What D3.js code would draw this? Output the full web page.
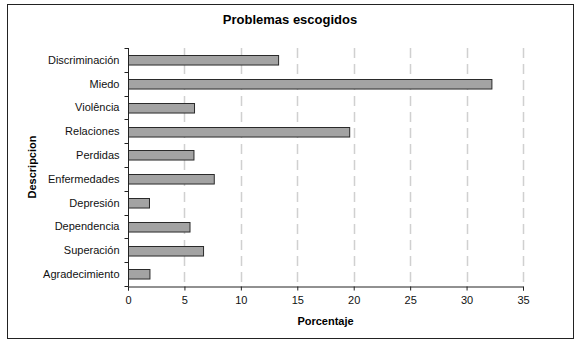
<!DOCTYPE html>
<head>
    <meta charset="utf-8">
    <title>Problemas escogidos</title>
    <style>
        body { margin: 0; background: #fff; }
        svg { display: block; font-family: "Liberation Sans", Arial, sans-serif; }
    </style>
</head>
<body>

<svg width="580" height="350"></svg>

<script src="https://cdnjs.cloudflare.com/ajax/libs/d3/7.8.5/d3.min.js"></script>

<script>

// categories top to bottom, and the percentage for each
var categories = ['Discriminación', 'Miedo', 'Violência', 'Relaciones', 'Perdidas',
                  'Enfermedades', 'Depresión', 'Dependencia', 'Superación', 'Agradecimiento'];
var values = [13.3, 32.2, 5.85, 19.6, 5.8, 7.6, 1.86, 5.45, 6.65, 1.9];
var xTicks = [0, 5, 10, 15, 20, 25, 30, 35];

var svg = d3.select('svg');

var margin = {left: 128, right: 57, top: 48, bottom: 64};
var width = 580 - margin.left - margin.right,
    height = 350 - margin.top - margin.bottom;

// outer frame
svg.append('rect')
    .attr('x', 7.5).attr('y', 4.5)
    .attr('width', 566).attr('height', 334)
    .attr('fill', 'none')
    .attr('stroke', '#222')
    .attr('stroke-width', 1);

svg.append('text')
    .attr('x', 290).attr('y', 24)
    .attr('text-anchor', 'middle')
    .attr('font-size', 13)
    .attr('font-weight', 'bold')
    .text('Problemas escogidos');

var g = svg.append('g')
    .attr('transform', `translate(${margin.left},${margin.top})`);

var x = d3.scaleLinear()
    .domain([0, 35])
    .range([0, width]);

var y = d3.scaleBand()
    .domain(categories)
    .range([0, height])
    .paddingInner(0.6)
    .paddingOuter(0.3);

// dashed vertical gridlines
g.selectAll('.grid')
    .data(xTicks.slice(1))
    .enter().append('line')
        .attr('x1', d => Math.round(x(d)) + 0.5)
        .attr('x2', d => Math.round(x(d)) + 0.5)
        .attr('y1', 0)
        .attr('y2', height)
        .attr('stroke', '#d0d0d0')
        .attr('stroke-width', 1.5)
        .attr('stroke-dasharray', '10,6');

// bars
g.selectAll('.bar')
    .data(values)
    .enter().append('rect')
        .attr('x', 0.5)
        .attr('y', (d, i) => Math.round(y(categories[i])) + 0.5)
        .attr('width', d => x(d))
        .attr('height', y.bandwidth())
        .attr('fill', '#a3a3a3')
        .attr('stroke', '#2a2a2a')
        .attr('stroke-width', 1);

// x axis
var xAxis = g.append('g')
    .attr('transform', `translate(0,${height + 0.5})`)
    .call(d3.axisBottom(x).tickValues(xTicks).tickSize(4).tickPadding(6));

xAxis.select('.domain').attr('stroke', '#222');
xAxis.selectAll('.tick line').attr('stroke', '#222');
xAxis.selectAll('text')
    .attr('font-family', '"Liberation Sans", Arial, sans-serif')
    .attr('font-size', 11)
    .attr('fill', '#111');

// y axis: Excel style ticks between categories
var yAxis = g.append('g').attr('transform', 'translate(0.5,0)');

yAxis.append('line')
    .attr('x1', 0).attr('x2', 0)
    .attr('y1', 0).attr('y2', height + 0.5)
    .attr('stroke', '#222');

yAxis.selectAll('.ytick')
    .data(d3.range(categories.length + 1))
    .enter().append('line')
        .attr('x1', -4).attr('x2', 0)
        .attr('y1', i => Math.round(i * height / categories.length) + 0.5)
        .attr('y2', i => Math.round(i * height / categories.length) + 0.5)
        .attr('stroke', '#222');

yAxis.selectAll('.ylabel')
    .data(categories)
    .enter().append('text')
        .attr('x', -9)
        .attr('y', d => y(d) + y.bandwidth() / 2)
        .attr('dy', '0.35em')
        .attr('text-anchor', 'end')
        .attr('font-size', 11)
        .attr('fill', '#111')
        .text(d => d);

// axis titles
svg.append('text')
    .attr('x', margin.left + x(17.5))
    .attr('y', 325)
    .attr('text-anchor', 'middle')
    .attr('font-size', 11)
    .attr('font-weight', 'bold')
    .text('Porcentaje');

svg.append('text')
    .attr('transform', `translate(36,${margin.top + height / 2}) rotate(-90)`)
    .attr('text-anchor', 'middle')
    .attr('font-size', 11)
    .attr('font-weight', 'bold')
    .text('Descripcion');

</script>

</body>
